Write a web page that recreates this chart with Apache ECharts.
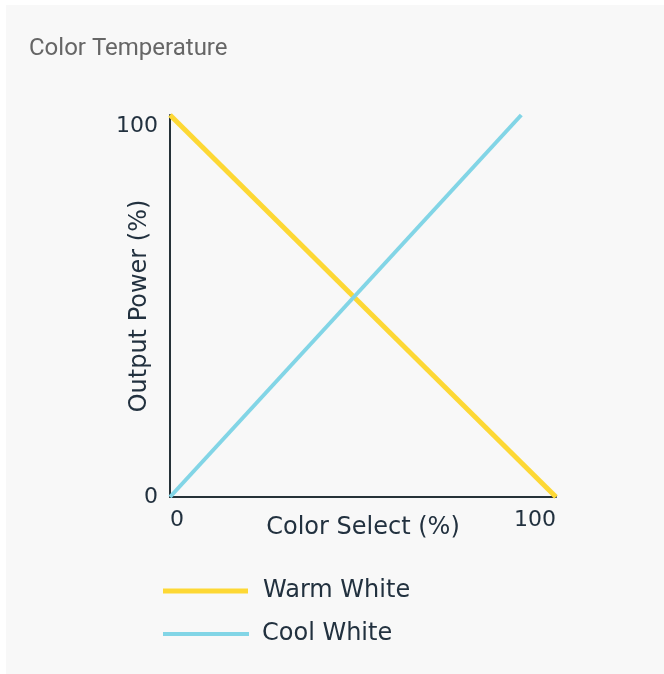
<!DOCTYPE html>
<html>
<head>
<meta charset="utf-8">
<script src="https://cdn.jsdelivr.net/npm/echarts@6/dist/echarts.min.js"></script>
<style>
html,body{margin:0;padding:0;background:#ffffff;}
#chart{width:664px;height:674px;}
</style>
</head>
<body>
<div id="chart"></div>
<script>
const seriesNames = ['Warm White', 'Cool White'];
const warmData = [[0, 100], [100, 0]];
const coolData = [[0, 0], [91, 100]];
const xTicks = [0, 100];
const yTicks = [0, 100];

const textColor = '#22313f';
const font = 'DejaVu Sans';

const chart = echarts.init(document.getElementById('chart'), null, {renderer: 'canvas'});
chart.setOption({
  backgroundColor: '#ffffff',
  animation: false,
  graphic: [{
    type: 'rect', left: 6, top: 5, z: -10,
    shape: {width: 660, height: 672},
    style: {fill: '#f8f8f8'}
  }],
  title: {
    text: 'Color Temperature', left: 24, top: 32,
    textStyle: {fontFamily: 'Roboto', fontSize: 24, fontWeight: 'normal', color: '#666666'}
  },
  grid: {left: 170, right: 108, top: 115, bottom: 177, containLabel: false},
  xAxis: {
    type: 'value', min: xTicks[0], max: xTicks[1], interval: xTicks[1] - xTicks[0],
    name: 'Color Select (%)', nameLocation: 'middle', nameGap: 19, nameMoveOverlap: false,
    nameTextStyle: {fontFamily: font, fontSize: 24, color: textColor},
    axisLine: {show: true, lineStyle: {color: '#263238', width: 2}},
    axisTick: {show: false}, splitLine: {show: false},
    axisLabel: {fontFamily: font, fontSize: 22, color: textColor, margin: 12,
      alignMinLabel: 'left', alignMaxLabel: 'right'}
  },
  yAxis: {
    type: 'value', min: yTicks[0], max: yTicks[1], interval: yTicks[1] - yTicks[0],
    name: 'Output Power (%)', nameLocation: 'middle', nameGap: 18, nameMoveOverlap: false,
    nameTextStyle: {fontFamily: font, fontSize: 24, color: textColor},
    axisLine: {show: true, lineStyle: {color: '#263238', width: 2}},
    axisTick: {show: false}, splitLine: {show: false},
    axisLabel: {fontFamily: font, fontSize: 22, color: textColor, margin: 12,
      verticalAlignMaxLabel: 'top'}
  },
  legend: [{
    data: [seriesNames[0]], left: 158, top: 574, orient: 'vertical',
    icon: 'rect', itemWidth: 85, itemHeight: 5,
    textStyle: {fontFamily: font, fontSize: 24, color: textColor, padding: [0, 0, 0, 10]}
  }, {
    data: [seriesNames[1]], left: 158, top: 617, orient: 'vertical',
    icon: 'rect', itemWidth: 86, itemHeight: 4,
    textStyle: {fontFamily: font, fontSize: 24, color: textColor, padding: [0, 0, 0, 8]}
  }],
  series: [{
    name: seriesNames[0], type: 'line', data: warmData, showSymbol: false, symbol: 'none',
    color: '#fdd835', lineStyle: {width: 5, color: '#fdd835'}
  }, {
    name: seriesNames[1], type: 'line', data: coolData, showSymbol: false, symbol: 'none',
    color: '#82d5e6', lineStyle: {width: 4, color: '#82d5e6'}
  }]
});
</script>
</body>
</html>
